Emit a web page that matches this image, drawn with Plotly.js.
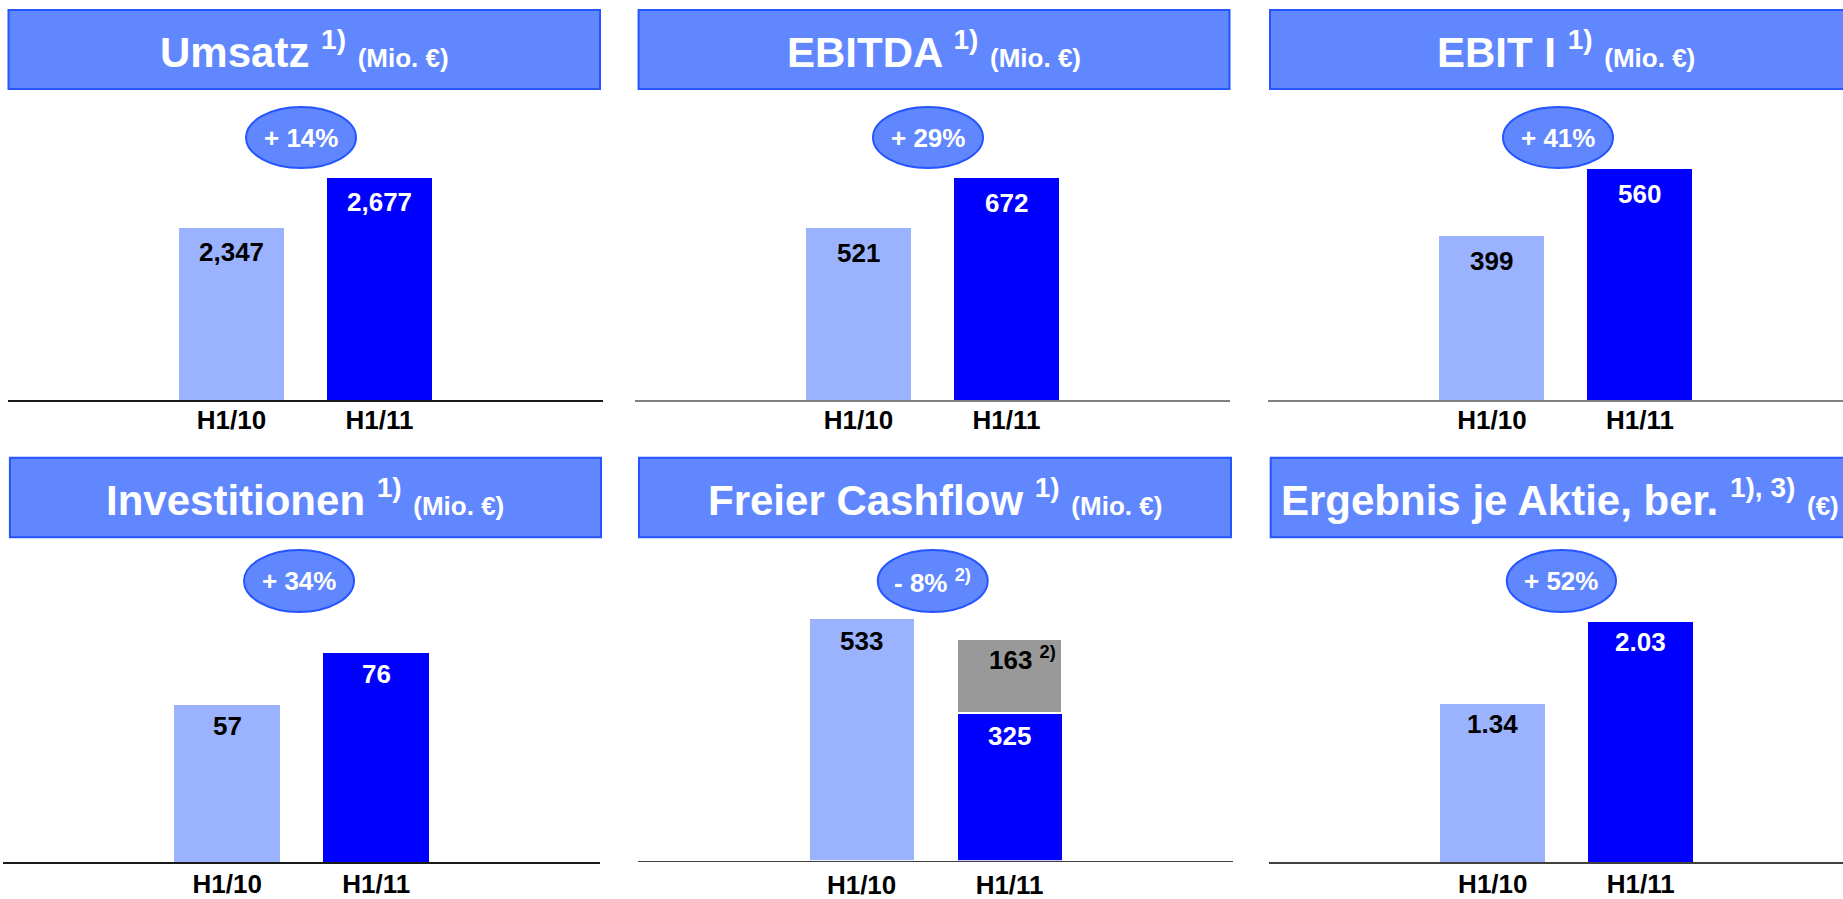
<!DOCTYPE html>
<html><head><meta charset="utf-8">
<script src="https://cdn.plot.ly/plotly-3.0.1.min.js"></script>
<style>html,body{margin:0;padding:0;overflow:hidden;background:#fff}</style>
</head><body><div id="chart" style="width:1843px;height:899px"></div>
<script>
// ---------- data ----------
const categories = ['H1/10', 'H1/11'];
const umsatz = [2347, 2677];
const ebitda = [521, 672];
const ebitI = [399, 560];
const investitionen = [57, 76];
const freierCashflow = [533, 325];
const cashflowSonder = [null, 163];
const ergebnisJeAktie = [1.34, 2.03];
const changeLabels = ['+ 14%', '+ 29%', '+ 41%', '+ 34%', '- 8% <sup>2)</sup>', '+ 52%'];
const panelTitles = ['Umsatz', 'EBITDA', 'EBIT I', 'Investitionen', 'Freier Cashflow', 'Ergebnis je Aktie, ber.'];
const titleNotes = ['1)', '1)', '1)', '1)', '1)', '1), 3)'];
const titleUnits = ['(Mio. €)', '(Mio. €)', '(Mio. €)', '(Mio. €)', '(Mio. €)', '(€)'];
const sonderNote = '2)';

const series = [umsatz, ebitda, ebitI, investitionen, freierCashflow, ergebnisJeAktie];
const fmt = [
  v => v.toLocaleString('en-US'),
  v => String(v), v => String(v), v => String(v), v => String(v),
  v => v.toFixed(2)
];

// ---------- layout geometry (pixels) ----------
const W = 1843, H = 899;
const FONT = '"Liberation Sans", Arial, Helvetica, sans-serif';
const LIGHT = '#9BB3FF', DARK = '#0000FF', GREY = '#999999';
const BOXFILL = '#6187FF', BOXLINE = '#2455FF';
const geo = [
  {ax:[8,603],    base:400,   top:100, c0:231.5,  unit:148, ymin:1211.8, ppu:0.15152, box:[8.5,600,10,89],        ell:[246,356,107,168],     line:'#1a1a1a', off:24, so:-4, tx:0},
  {ax:[635,1230], base:400,   top:100, c0:858.4,  unit:148, ymin:0,      ppu:0.3298,  box:[638.6,1229.5,10,89],   ell:[873,983,107,168],     line:'#808080', off:25, so:-4, tx:0},
  {ax:[1268,1843],base:400,   top:100, c0:1491.9, unit:148, ymin:0,      ppu:0.4119,  box:[1270,1861,10,89],      ell:[1503,1613,107,168],   line:'#808080', off:25, so:-4, tx:0},
  {ax:[3,600],    base:862.3, top:550, c0:227.2,  unit:149, ymin:0,      ppu:2.76,    box:[9.9,601,457.7,537.3],  ell:[244,354,550,612],     line:'#1a1a1a', off:21, so:-2, tx:0},
  {ax:[638,1233], base:860.7, top:550, c0:861.6,  unit:148, ymin:0,      ppu:0.455,   box:[639,1231,457.7,537.3], ell:[877.8,987.7,550,612], line:'#404040', off:23, so:1, tx:0},
  {ax:[1269,1843],base:862.3, top:550, c0:1492.8, unit:148, ymin:0,      ppu:118.3,   box:[1270.7,1862,457.7,537.3], ell:[1506.8,1616,550,612], line:'#404040', off:20, so:-2, tx:-6}
];
const px = x => x / W;
const py = y => 1 - y / H;

const traces = [];
const layout = {
  width: W, height: H,
  margin: {l:0, r:0, t:0, b:0},
  paper_bgcolor: '#ffffff', plot_bgcolor: 'rgba(0,0,0,0)',
  showlegend: false, barmode: 'stack',
  font: {family: FONT},
  shapes: [], annotations: []
};

geo.forEach((g, i) => {
  const k = i === 0 ? '' : String(i + 1);
  const xa = 'x' + k, ya = 'y' + k;
  const xmin = -(g.c0 - g.ax[0]) / g.unit;
  const xmax = xmin + (g.ax[1] - g.ax[0]) / g.unit;
  layout['xaxis' + k] = {
    domain: [px(g.ax[0]), px(g.ax[1])], anchor: ya,
    type: 'category', categoryorder: 'array', categoryarray: categories,
    range: [xmin, xmax], showline: true, linecolor: g.line, linewidth: 1.5,
    ticks: '', showgrid: false, zeroline: false, fixedrange: true,
    ticklabelstandoff: g.so,
    tickfont: {family: FONT, size: 26, color: '#000', weight: 'bold'}
  };
  layout['yaxis' + k] = {
    domain: [py(g.base), py(g.top)], anchor: xa,
    range: [g.ymin, g.ymin + (g.base - g.top) / g.ppu],
    visible: false, showgrid: false, zeroline: false, fixedrange: true
  };
  const vals = series[i];
  traces.push({
    type: 'bar', x: categories, y: vals, xaxis: xa, yaxis: ya, width: 0.71,
    marker: {color: [LIGHT, DARK], line: {width: i === 4 ? 1 : 0, color: '#fff'}},
    hoverinfo: 'skip'
  });
  vals.forEach((v, j) => {
    layout.annotations.push({
      xref: xa, yref: ya, x: categories[j], y: v, text: fmt[i](v),
      showarrow: false, yanchor: 'middle', yshift: -g.off,
      font: {family: FONT, size: 26, color: j === 0 ? '#000' : '#fff', weight: 'bold'}
    });
  });
  // title box
  layout.shapes.push({type:'rect', xref:'paper', yref:'paper', layer:'above',
    x0: px(g.box[0]), x1: px(g.box[1]), y0: py(g.box[3]), y1: py(g.box[2]),
    fillcolor: BOXFILL, line: {color: BOXLINE, width: 2}});
  layout.annotations.push({
    xref:'paper', yref:'paper', x: px((g.box[0] + g.box[1]) / 2), y: py((g.box[2] + g.box[3]) / 2),
    xanchor:'center', yanchor:'middle', showarrow:false, xshift: g.tx,
    text: panelTitles[i] + ' <sup><span style="font-size:28px">' + titleNotes[i] + '</span></sup> <span style="font-size:26px">' + titleUnits[i] + '</span>',
    font: {family: FONT, size: 42, color: '#fff', weight: 'bold'}
  });
  // change ellipse
  layout.shapes.push({type:'circle', xref:'paper', yref:'paper', layer:'above',
    x0: px(g.ell[0]), x1: px(g.ell[1]), y0: py(g.ell[3]), y1: py(g.ell[2]),
    fillcolor: BOXFILL, line: {color: BOXLINE, width: 2}});
  layout.annotations.push({
    xref:'paper', yref:'paper', x: px((g.ell[0] + g.ell[1]) / 2), y: py((g.ell[2] + g.ell[3]) / 2),
    xanchor:'center', yanchor:'middle', showarrow:false, text: changeLabels[i],
    font: {family: FONT, size: 26, color: '#fff', weight: 'bold'}
  });
});

// special item on top of free cash flow H1/11
traces.push({
  type: 'bar', x: categories, y: cashflowSonder, xaxis: 'x5', yaxis: 'y5', width: 0.71,
  marker: {color: GREY, line: {width: 2, color: '#fff'}}, hoverinfo: 'skip'
});
layout.annotations.push({
  xref: 'x5', yref: 'y5', x: categories[1], y: freierCashflow[1] + cashflowSonder[1],
  text: cashflowSonder[1] + ' <sup>' + sonderNote + '</sup>', showarrow: false,
  xanchor: 'left', xshift: -23, yanchor: 'middle', yshift: -20,
  font: {family: FONT, size: 26, color: '#000', weight: 'bold'}
});

Plotly.newPlot('chart', traces, layout, {displayModeBar: false, staticPlot: true});
</script>
</body></html>
